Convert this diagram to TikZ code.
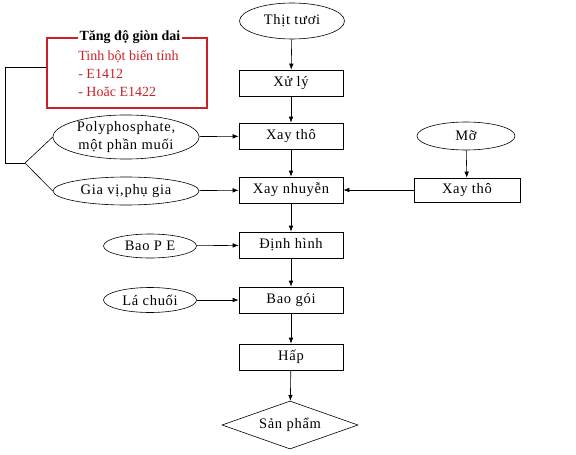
\documentclass[tikz,border=0pt]{standalone}
\usepackage{fontspec}
\setmainfont{Liberation Serif}
\newfontfamily\widefont[LetterSpace=5]{Liberation Serif}
\usetikzlibrary{shapes.geometric,arrows.meta}

\definecolor{boxred}{RGB}{204,32,40}

\tikzset{
   stepbox/.style={draw, rectangle, minimum width=104pt, minimum height=26pt, inner sep=0pt},
   inbox/.style={draw, ellipse, inner sep=0pt, align=center},
   flow/.style={draw, -{Latex[length=6pt,width=4.5pt]}},
}

\begin{document}
\begin{tikzpicture}[x=1pt, y=-1pt, font=\widefont\fontsize{14.5}{18}\selectfont, line width=0.6pt]
   \useasboundingbox (0,0) rectangle (576,455);
   \def \Steps {
      xuly/83/Xử lý,
      xaytho/136/Xay thô,
      xaynhuyen/190/Xay nhuyễn,
      dinhhinh/245/Định hình,
      baogoi/300/Bao gói,
      hap/357/Hấp}
   \def \Inputs {
      poly/126/137/146/39/{Polyphosphate,\\một phần muối},
      giavi/126/191/146/28/{Gia vị,phụ gia},
      baope/150/246/93/24/{Bao P E},
      lachuoi/150/300/93/25/{Lá chuối},
      mo/466/136/98/28/{Mỡ}}
   % main column
   \node[inbox, minimum width=105pt, minimum height=36pt] (thit) at (292,21) {Thịt tươi};
   \foreach \u / \y / \n in \Steps {
      \node[stepbox] (\u) at (291,\y) {\n};
   }
   \node[draw, diamond, aspect=2.8, inner sep=0pt, minimum width=136pt, minimum height=48pt] (sanpham) at (290,425) {Sản phẩm};
   \node[stepbox, minimum width=106pt, minimum height=24pt] (xaytho2) at (467,190) {Xay thô};
   % side inputs
   \foreach \u / \x / \y / \w / \h / \n in \Inputs {
      \node[inbox, minimum width=\w pt, minimum height=\h pt] (\u) at (\x,\y) {\n};
   }
   % red note
   \node[draw=boxred, line width=2.2pt, rectangle, minimum width=160pt, minimum height=70pt] (note) at (127,73) {};
   \node[fill=white, inner sep=2pt, font=\rmfamily\fontsize{14}{17}\selectfont\bfseries] (notetitle) at (130,37) {Tăng độ giòn dai};
   \node[text=boxred, align=left, anchor=west, inner sep=0pt, font=\rmfamily\fontsize{14}{18}\selectfont] (notetext) at (78,73) {Tinh bột biến tính\\- E1412\\- Hoăc E1422};
   % connectors
   \foreach \a / \b in {thit/xuly, xuly/xaytho, xaytho/xaynhuyen, xaynhuyen/dinhhinh, dinhhinh/baogoi, baogoi/hap, hap/sanpham, mo/xaytho2} {
      \path[flow] (\a) -- (\b);
   }
   \path[flow] (poly) -- (xaytho);
   \path[flow] (giavi) -- (xaynhuyen);
   \path[flow] (baope) -- (dinhhinh);
   \path[flow] (lachuoi) -- (baogoi);
   \path[flow] (xaytho2) -- (xaynhuyen);
   \coordinate (corner) at (5,163);
   \coordinate (fork) at (25,163);
   \draw ([yshift=6pt]note.west) -| (corner) -- (fork);
   \draw (fork) -- (poly.west);
   \draw (fork) -- (giavi.west);
\end{tikzpicture}
\end{document}
